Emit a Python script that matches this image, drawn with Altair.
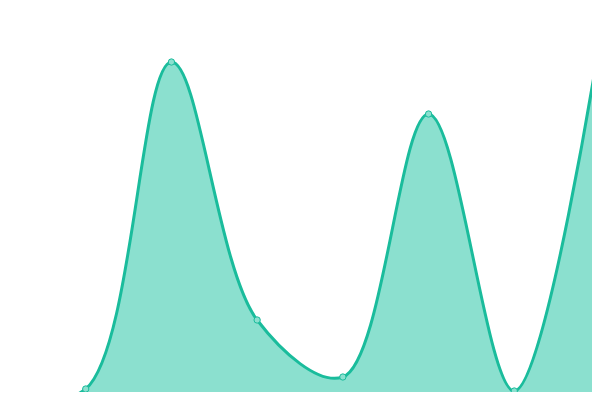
import altair as alt
import pandas as pd

# Data (heights in pixel units above the baseline)
xs = [0, 1, 2, 3, 4, 5, 6, 7]
values = [3, 11, 338, 80, 23, 286, 9, 361]

df = pd.DataFrame({"x": xs, "v": values})

W, H = 584, 384
step = 600 / 7
xscale = alt.Scale(domain=[8 / step, 592 / step], nice=False, zero=False)
yscale = alt.Scale(domain=[8, 392], nice=False, zero=False)

base = alt.Chart(df).encode(
    x=alt.X("x:Q", scale=xscale, axis=None),
    y=alt.Y("v:Q", scale=yscale, axis=None),
)

area = base.mark_area(interpolate="catmull-rom", color="#8be0cf", opacity=1)
line = base.mark_line(interpolate="catmull-rom", color="#1abc9c", strokeWidth=3)
pts = base.mark_point(filled=True, size=40, fill="#8be0cf", stroke="#1abc9c",
                      strokeWidth=1, opacity=1)

chart = (area + line + pts).properties(
    width=W, height=H, autosize=alt.AutoSizeParams(type="none"), padding=0
).configure_view(stroke=None)

chart.save("out.html", embed_options={"renderer": "svg", "actions": False})
